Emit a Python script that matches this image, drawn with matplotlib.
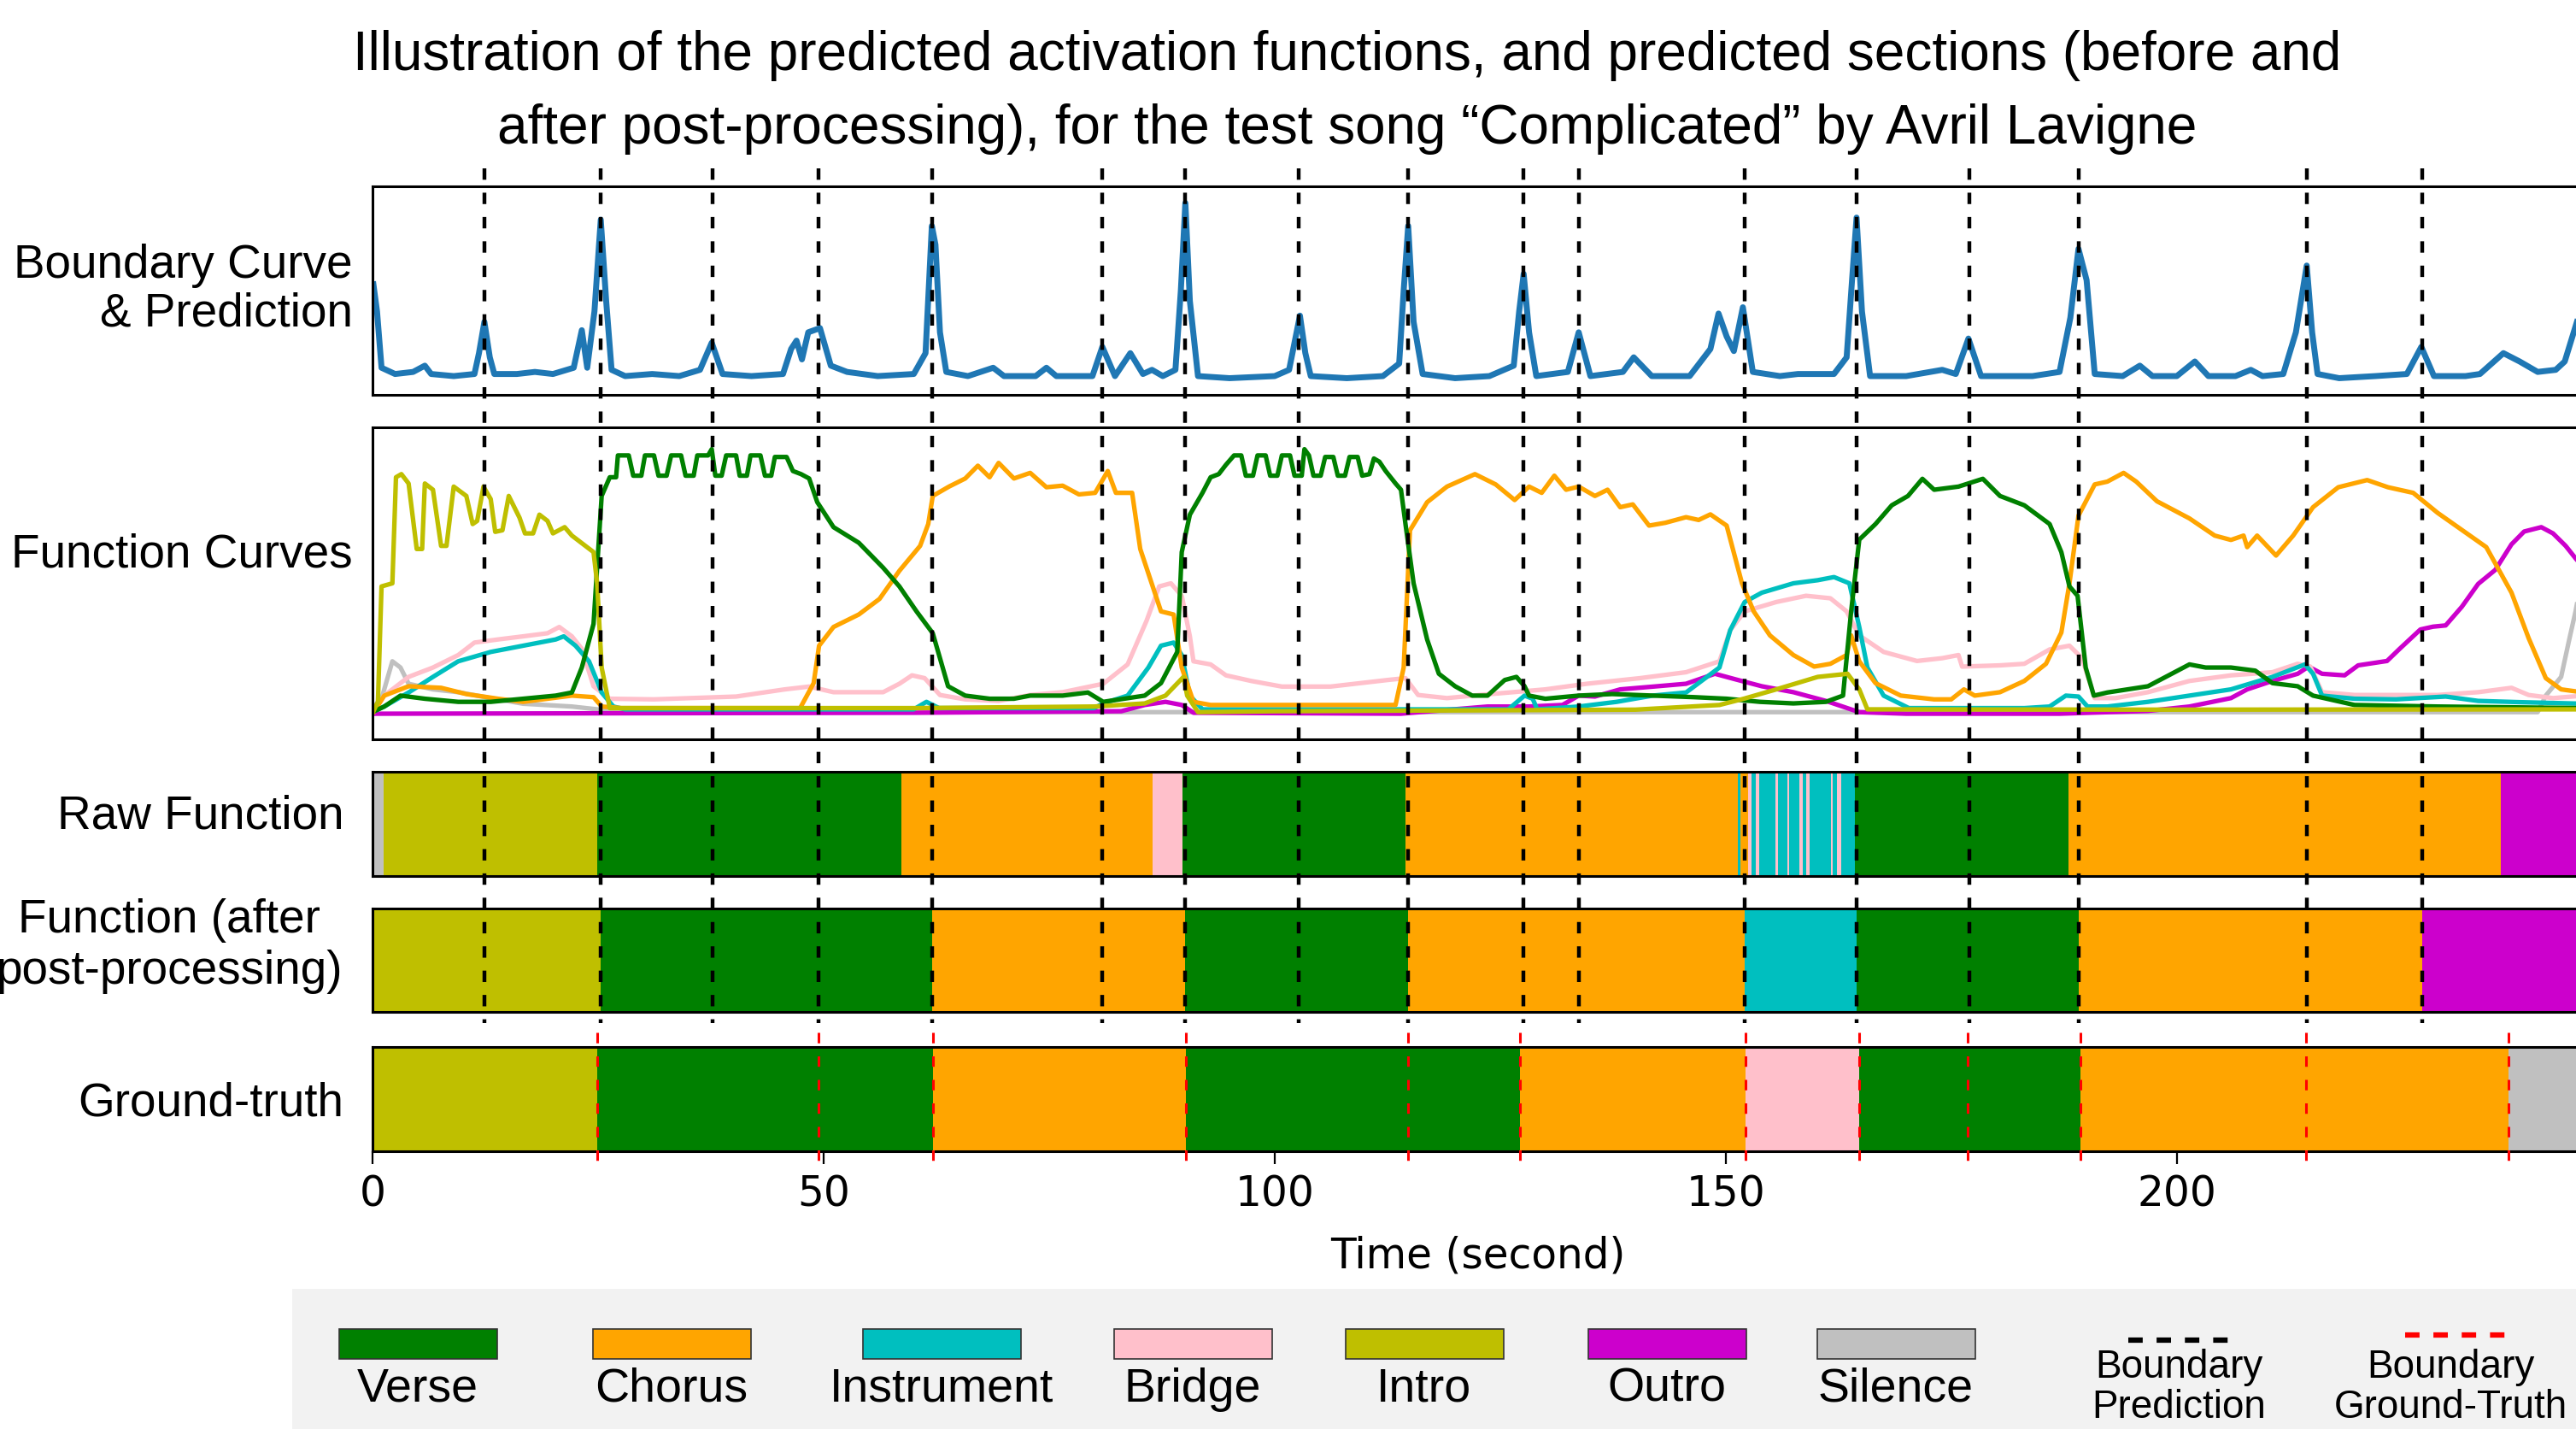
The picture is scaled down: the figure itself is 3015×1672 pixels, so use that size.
import matplotlib
matplotlib.use('Agg')
import matplotlib.pyplot as plt
import matplotlib.transforms as mtransforms
from matplotlib.lines import Line2D
from matplotlib.patches import Rectangle

plt.rcParams['font.family'] = ['Liberation Sans', 'DejaVu Sans']

# ---------------- data ----------------
song_end = 245.1

colors = {'Verse': '#008000', 'Chorus': '#ffa500', 'Instrument': '#00bfbf',
          'Bridge': '#ffc0cb', 'Intro': '#bfbf00', 'Outro': '#cc00cc',
          'Silence': '#c0c0c0'}
legend_names = ['Verse', 'Chorus', 'Instrument', 'Bridge', 'Intro', 'Outro', 'Silence']

pred_bounds = [12.4, 25.3, 37.7, 49.4, 62.0, 80.9, 90.1, 102.7, 114.8, 127.6, 133.7,
               152.1, 164.5, 177.0, 189.1, 214.4, 227.2]
gt_bounds = [24.9, 49.4, 62.1, 90.2, 114.8, 127.2, 152.2, 164.8, 176.8, 189.3, 214.3, 236.8]

raw_edges = [0, 1.2, 24.9, 58.6, 86.5, 89.8, 114.5, 151.3, 151.6, 152.5, 152.9, 153.3,
             153.7, 155.5, 155.8, 156.8, 157.0, 158.2, 158.5, 158.9, 159.3, 161.7, 161.9,
             162.3, 162.8, 164.3, 188.0, 235.9, song_end]
raw_labels = ['Silence', 'Intro', 'Verse', 'Chorus', 'Bridge', 'Verse', 'Chorus',
              'Instrument', 'Chorus', 'Bridge', 'Instrument', 'Bridge', 'Instrument',
              'Bridge', 'Instrument', 'Bridge', 'Instrument', 'Bridge', 'Instrument',
              'Bridge', 'Instrument', 'Bridge', 'Instrument', 'Bridge', 'Instrument',
              'Verse', 'Chorus', 'Outro']

post_edges = [0, 25.3, 62.0, 90.1, 114.8, 152.1, 164.5, 189.1, 227.2, song_end]
post_labels = ['Intro', 'Verse', 'Chorus', 'Verse', 'Chorus', 'Instrument', 'Verse',
               'Chorus', 'Outro']

gt_edges = [0, 24.9, 62.1, 90.2, 127.2, 152.2, 164.8, 189.3, 236.8, song_end]
gt_labels = ['Intro', 'Verse', 'Chorus', 'Verse', 'Chorus', 'Bridge', 'Verse', 'Chorus',
             'Silence']

# boundary activation curve, (time, value) pairs
bnd_points = [
    (0.1, 0.53), (0.5, 0.40), (1.0, 0.13), (2.5, 0.10), (4.5, 0.11), (5.8, 0.14),
    (6.5, 0.10), (9, 0.09), (11.3, 0.10), (11.8, 0.20), (12.4, 0.35), (13.0, 0.18),
    (13.5, 0.10), (16, 0.10), (18, 0.11), (20, 0.10), (22.3, 0.13), (23.2, 0.31),
    (23.8, 0.13), (24.6, 0.40), (25.3, 0.84), (25.9, 0.45), (26.5, 0.12), (28, 0.09),
    (31, 0.10), (34, 0.09), (36.3, 0.12), (37.6, 0.25), (38.8, 0.10), (42, 0.09),
    (45.5, 0.10), (46.4, 0.22), (47.0, 0.26), (47.6, 0.17), (48.3, 0.30), (49.6, 0.32),
    (50.8, 0.14), (52.6, 0.11), (56, 0.09), (60, 0.10), (61.3, 0.20), (61.7, 0.55),
    (62.0, 0.81), (62.4, 0.72), (62.9, 0.30), (63.6, 0.11), (66, 0.09), (68.8, 0.13),
    (70, 0.09), (73.5, 0.09), (74.7, 0.13), (75.8, 0.09), (79.8, 0.09), (80.9, 0.23),
    (82.3, 0.09), (84.0, 0.20), (85.4, 0.10), (86.4, 0.12), (87.6, 0.09), (89.0, 0.12),
    (89.6, 0.50), (90.1, 0.92), (90.6, 0.45), (91.5, 0.09), (95, 0.08), (100, 0.09),
    (101.6, 0.12), (102.2, 0.25), (102.8, 0.38), (103.4, 0.20), (104, 0.09), (108, 0.08),
    (112, 0.09), (113.8, 0.15), (114.3, 0.50), (114.8, 0.81), (115.4, 0.35), (116.4, 0.10),
    (120, 0.08), (123.8, 0.09), (126.5, 0.14), (127.1, 0.40), (127.6, 0.58), (128.2, 0.30),
    (129, 0.09), (132.5, 0.11), (133.7, 0.30), (135, 0.09), (138.6, 0.11), (139.8, 0.18),
    (141.8, 0.09), (146, 0.09), (148.3, 0.22), (149.2, 0.39), (150.1, 0.28), (150.9, 0.21),
    (151.9, 0.42), (153.0, 0.11), (156, 0.09), (158, 0.10), (162, 0.10), (163.4, 0.18),
    (164.0, 0.55), (164.5, 0.85), (165.1, 0.40), (166, 0.09), (170, 0.09), (174.0, 0.12),
    (175.5, 0.10), (176.9, 0.27), (178.3, 0.09), (184, 0.09), (187.0, 0.11), (188.2, 0.37),
    (189.1, 0.70), (190.0, 0.55), (190.9, 0.10), (194, 0.09), (195.9, 0.14), (197.3, 0.09),
    (200, 0.09), (202.0, 0.16), (203.5, 0.09), (206.5, 0.09), (208.2, 0.12), (209.5, 0.09),
    (211.8, 0.10), (213.2, 0.30), (214.4, 0.62), (215.0, 0.30), (215.6, 0.10), (218, 0.08),
    (222, 0.09), (225.5, 0.10), (227.1, 0.23), (228.5, 0.09), (232, 0.09), (233.6, 0.10),
    (236.2, 0.20), (238, 0.16), (240.0, 0.11), (242.0, 0.12), (243.0, 0.16), (244.2, 0.33),
    (245.1, 0.45)]
bnd_t = [p[0] for p in bnd_points]
bnd_v = [p[1] for p in bnd_points]

# function activation curves
verse_t = [0.2, 1.3, 3.1, 5.8, 9.5, 13.1, 16.7, 20.3, 22.1, 23.2, 24.5, 25.4, 26.3, 27.0,
           27.2, 28.4, 28.9, 29.8, 30.2, 31.2, 31.7, 32.6, 33.1, 34.2, 34.7, 35.6, 36.0,
           37.2, 37.6, 38.0, 38.7, 39.2, 40.3, 40.7, 41.5, 41.9, 43.0, 43.5, 44.2, 44.6,
           45.9, 46.6, 47.5, 48.4, 49.3, 51.1, 53.9, 56.6, 58.4, 60.3, 62.1, 63.0, 63.8,
           65.7, 68.4, 71.1, 72.9, 76.5, 79.3, 81.0, 85.6, 87.4, 89.2, 89.7, 90.6, 92.0,
           92.9, 93.8, 94.6, 95.5, 96.3, 96.8, 97.6, 98.1, 99.0, 99.5, 100.3, 100.8, 101.7,
           102.2, 103.0, 103.3, 103.8, 104.3, 105.1, 105.6, 106.5, 107.0, 107.8, 108.3,
           109.2, 109.7, 110.5, 111.0, 111.6, 112.3, 113.4, 114.0, 114.5, 115.4, 116.9,
           118.2, 120.0, 121.9, 123.6, 125.5, 126.8, 127.7, 128.2, 130.0, 133.7, 137.4,
           141.9, 146.5, 150.1, 153.8, 157.5, 161.1, 163.0, 163.9, 164.8, 166.6, 168.4,
           170.2, 171.8, 173.1, 175.8, 178.5, 180.4, 183.1, 185.9, 187.2, 188.1, 189.0,
           189.9, 190.8, 192.3, 196.8, 201.4, 203.2, 206.0, 208.7, 210.6, 213.4, 215.1,
           219.7, 228.9, 245.1]
verse_v = [0.09, 0.105, 0.14, 0.13, 0.12, 0.12, 0.13, 0.14, 0.15, 0.23, 0.37, 0.78, 0.84,
           0.84, 0.91, 0.91, 0.845, 0.845, 0.91, 0.91, 0.845, 0.845, 0.91, 0.91, 0.845,
           0.845, 0.91, 0.91, 0.93, 0.845, 0.845, 0.91, 0.91, 0.845, 0.845, 0.91, 0.91,
           0.845, 0.845, 0.905, 0.905, 0.86, 0.85, 0.836, 0.76, 0.68, 0.63, 0.55, 0.49,
           0.41, 0.34, 0.25, 0.17, 0.14, 0.13, 0.13, 0.14, 0.14, 0.15, 0.12, 0.14, 0.18,
           0.28, 0.60, 0.72, 0.79, 0.84, 0.85, 0.88, 0.91, 0.91, 0.845, 0.845, 0.91, 0.91,
           0.845, 0.845, 0.91, 0.91, 0.845, 0.845, 0.93, 0.91, 0.845, 0.845, 0.905, 0.905,
           0.845, 0.845, 0.905, 0.905, 0.845, 0.85, 0.90, 0.89, 0.86, 0.82, 0.80, 0.69,
           0.50, 0.32, 0.21, 0.17, 0.14, 0.14, 0.19, 0.20, 0.17, 0.14, 0.13, 0.14, 0.145,
           0.14, 0.135, 0.13, 0.12, 0.115, 0.12, 0.14, 0.41, 0.64, 0.69, 0.75, 0.78, 0.835,
           0.80, 0.81, 0.835, 0.78, 0.75, 0.69, 0.60, 0.49, 0.46, 0.23, 0.14, 0.15, 0.17,
           0.24, 0.23, 0.23, 0.22, 0.18, 0.17, 0.14, 0.11, 0.105, 0.10]

chorus_t = [0.2, 1.3, 4.0, 7.6, 10.4, 13.9, 16.7, 22.1, 24.5, 25.4, 27.6, 40, 47.4, 48.9,
            49.5, 51.1, 53.9, 56.2, 58.4, 60.7, 61.6, 62.1, 63.9, 65.7, 67.1, 68.4, 69.4,
            71.1, 72.9, 74.7, 76.5, 78.3, 80.1, 81.5, 82.4, 84.2, 85.1, 87.4, 88.8, 89.7,
            91.0, 92.9, 100, 113.4, 114.3, 115.0, 116.9, 119.1, 122.2, 124.5, 126.6, 128.2,
            129.6, 131.0, 132.3, 133.7, 135.5, 136.9, 138.3, 139.7, 141.5, 143.3, 145.6,
            147.0, 148.3, 150.1, 151.8, 153.1, 154.9, 157.5, 159.8, 161.6, 163.4, 163.9,
            164.8, 166.6, 169.4, 173.1, 175.0, 176.4, 177.6, 180.4, 183.1, 185.5, 187.2,
            188.1, 189.1, 190.9, 192.3, 194.1, 195.5, 197.8, 201.4, 204.2, 206.0, 207.4,
            207.8, 208.9, 211.0, 212.9, 215.1, 217.9, 221.1, 223.4, 226.2, 228.9, 231.6,
            234.3, 237.1, 239.0, 240.9, 242.6, 245.1]
chorus_v = [0.09, 0.14, 0.17, 0.165, 0.145, 0.13, 0.12, 0.14, 0.135, 0.105, 0.10, 0.10,
            0.10, 0.18, 0.30, 0.36, 0.40, 0.45, 0.54, 0.62, 0.69, 0.78, 0.81, 0.836, 0.877,
            0.84, 0.886, 0.836, 0.854, 0.808, 0.813, 0.785, 0.79, 0.86, 0.79, 0.79, 0.61,
            0.41, 0.40, 0.23, 0.12, 0.11, 0.11, 0.11, 0.23, 0.67, 0.76, 0.81, 0.85, 0.817,
            0.767, 0.81, 0.79, 0.845, 0.80, 0.81, 0.78, 0.80, 0.744, 0.753, 0.685, 0.694,
            0.712, 0.703, 0.721, 0.685, 0.50, 0.41, 0.333, 0.27, 0.233, 0.242, 0.27, 0.333,
            0.25, 0.18, 0.14, 0.128, 0.128, 0.16, 0.14, 0.151, 0.187, 0.242, 0.342, 0.50,
            0.717, 0.817, 0.826, 0.854, 0.826, 0.763, 0.708, 0.653, 0.639, 0.653, 0.616,
            0.653, 0.589, 0.653, 0.744, 0.808, 0.831, 0.808, 0.790, 0.726, 0.671, 0.616,
            0.470, 0.324, 0.196, 0.160, 0.15]

instr_t = [0.2, 1.3, 4.0, 6.7, 9.5, 13.1, 16.7, 20.3, 21.2, 22.5, 24.0, 25.4, 26.7, 28,
           60, 61.4, 62.8, 80, 81.0, 83.7, 86.0, 87.4, 88.8, 89.7, 90.6, 92.0, 125.9,
           127.7, 128.6, 129.1, 133.7, 137.9, 141.9, 145.6, 149.3, 150.5, 152.1, 154.0,
           157.5, 160.2, 162.0, 163.7, 164.8, 165.7, 167.5, 170.3, 183.1, 185.9, 187.7,
           189.1, 190.1, 192.3, 196.8, 201.4, 206.0, 210.6, 214.2, 215.1, 216.1, 219.7,
           224.3, 229.8, 233.4, 238.0, 245.1]
instr_v = [0.09, 0.105, 0.15, 0.20, 0.25, 0.28, 0.30, 0.32, 0.33, 0.30, 0.25, 0.15, 0.105,
           0.096, 0.096, 0.12, 0.10, 0.10, 0.115, 0.14, 0.23, 0.30, 0.31, 0.27, 0.14, 0.096,
           0.096, 0.14, 0.13, 0.096, 0.105, 0.12, 0.14, 0.15, 0.23, 0.35, 0.44, 0.47, 0.50,
           0.51, 0.52, 0.50, 0.36, 0.23, 0.14, 0.10, 0.10, 0.105, 0.14, 0.137, 0.105, 0.105,
           0.12, 0.14, 0.16, 0.20, 0.24, 0.21, 0.14, 0.13, 0.128, 0.137, 0.123, 0.119, 0.114]

bridge_t = [0.2, 1.3, 4.0, 6.7, 9.5, 11.3, 13.9, 16.7, 19.4, 20.7, 22.1, 23.2, 24.5, 26.3,
            31.2, 40.3, 45.7, 48.4, 51.1, 53.9, 56.6, 58.4, 59.8, 61.2, 62.9, 65.7, 69.4,
            72.9, 76.5, 81.0, 83.7, 85.8, 87.2, 88.5, 89.7, 90.6, 91.0, 92.9, 94.6, 97.4,
            100.8, 106.2, 112.5, 114.5, 115.9, 119.1, 122.7, 126.4, 130.0, 134.6, 140.5,
            145.6, 149.3, 150.5, 152.1, 155.6, 158.9, 161.6, 163.4, 164.8, 167.5, 171.2,
            174.0, 175.8, 176.2, 180.4, 183.1, 185.9, 188.1, 189.5, 190.9, 193.2, 196.8,
            201.4, 206.0, 210.6, 213.4, 214.8, 216.1, 219.7, 224.3, 228.9, 233.4, 237.1,
            239.0, 241.7, 245.1]
bridge_v = [0.09, 0.14, 0.20, 0.23, 0.27, 0.31, 0.32, 0.33, 0.34, 0.36, 0.33, 0.29, 0.17,
            0.13, 0.128, 0.137, 0.16, 0.169, 0.151, 0.151, 0.151, 0.178, 0.205, 0.196,
            0.142, 0.128, 0.123, 0.142, 0.151, 0.178, 0.24, 0.38, 0.49, 0.50, 0.46, 0.33,
            0.25, 0.24, 0.205, 0.187, 0.169, 0.169, 0.19, 0.196, 0.142, 0.132, 0.142, 0.151,
            0.16, 0.178, 0.196, 0.215, 0.25, 0.35, 0.41, 0.44, 0.46, 0.452, 0.41, 0.333,
            0.28, 0.251, 0.26, 0.27, 0.233, 0.237, 0.242, 0.288, 0.30, 0.26, 0.132, 0.132,
            0.151, 0.187, 0.205, 0.215, 0.242, 0.233, 0.151, 0.142, 0.142, 0.142, 0.151,
            0.165, 0.142, 0.132, 0.14]

intro_t = [0.1, 0.6, 1.0, 2.2, 2.6, 3.2, 4.0, 4.9, 5.5, 5.8, 6.7, 7.6, 8.2, 9.0, 10.4,
           11.1, 11.6, 12.3, 13.1, 13.6, 14.4, 15.1, 16.3, 16.9, 17.8, 18.5, 19.4, 20.0,
           21.3, 22.1, 24.5, 24.9, 25.4, 26.3, 30, 60, 80, 85.6, 87.9, 89.9, 90.3, 91.5,
           100, 140, 149.3, 152.0, 155.6, 160.2, 163.5, 164.8, 165.7, 200, 245.1]
intro_v = [0.09, 0.12, 0.49, 0.50, 0.84, 0.85, 0.82, 0.61, 0.61, 0.82, 0.80, 0.62, 0.62,
           0.81, 0.78, 0.69, 0.70, 0.81, 0.77, 0.665, 0.67, 0.78, 0.71, 0.66, 0.66, 0.72,
           0.70, 0.66, 0.68, 0.653, 0.60, 0.50, 0.23, 0.10, 0.10, 0.10, 0.105, 0.115, 0.14,
           0.20, 0.14, 0.087, 0.09, 0.095, 0.11, 0.13, 0.16, 0.20, 0.21, 0.16, 0.096, 0.095,
           0.096]

outro_t = [0, 60, 83, 85.6, 87.9, 89.7, 91.0, 114, 123.6, 128.2, 131.9, 133.7, 135.5, 138.3,
           142.0, 145.6, 146.5, 148.8, 151.1, 154.0, 157.5, 161.1, 164.8, 170, 187, 196.8,
           201.4, 206.0, 207.8, 210.6, 213.4, 214.6, 216.1, 218.6, 220.1, 223.3, 224.7,
           227.0, 228.4, 229.8, 231.6, 233.4, 235.3, 237.1, 238.5, 240.4, 241.7, 243.1,
           244.2, 245.1]
outro_v = [0.082, 0.085, 0.09, 0.11, 0.12, 0.11, 0.085, 0.082, 0.105, 0.105, 0.11, 0.14,
           0.137, 0.16, 0.169, 0.178, 0.187, 0.21, 0.192, 0.17, 0.151, 0.123, 0.087, 0.082,
           0.082, 0.091, 0.105, 0.132, 0.16, 0.187, 0.21, 0.233, 0.21, 0.205, 0.237, 0.251,
           0.29, 0.352, 0.361, 0.365, 0.425, 0.498, 0.543, 0.625, 0.666, 0.68, 0.66, 0.62,
           0.58, 0.55]

silence_t = [0.1, 1.1, 2.2, 3.1, 4.0, 6.7, 9.5, 13.1, 16.7, 22.1, 24.9, 27.6, 240, 240.9,
             242.6, 243.5, 244.2, 245.1]
silence_v = [0.10, 0.14, 0.25, 0.23, 0.178, 0.16, 0.151, 0.132, 0.114, 0.105, 0.096, 0.087,
             0.087, 0.14, 0.20, 0.32, 0.41, 0.55]

title = ('Illustration of the predicted activation functions, and predicted sections (before and\n'
         'after post-processing), for the test song \u201cComplicated\u201d by Avril Lavigne')

# ---------------- layout (pixel boxes of the reference) ----------------
W, H = 3015, 1672
fig = plt.figure(figsize=(W / 100, H / 100), dpi=100)


def box(x0, y0, x1, y1):
    return [x0 / W, 1 - y1 / H, (x1 - x0) / W, (y1 - y0) / H]


AX_L, AX_R = 436, 3024
ax_bnd = fig.add_axes(box(AX_L, 218, AX_R, 462))
ax_fun = fig.add_axes(box(AX_L, 500, AX_R, 865))
ax_raw = fig.add_axes(box(AX_L, 903, AX_R, 1025))
ax_post = fig.add_axes(box(AX_L, 1063, AX_R, 1184))
ax_gt = fig.add_axes(box(AX_L, 1225, AX_R, 1347))

for ax in [ax_bnd, ax_fun, ax_raw, ax_post, ax_gt]:
    ax.set_xlim(0, song_end)
    ax.set_ylim(0, 1)
    ax.set_yticks([])
    ax.set_xticks([])
    for sp in ax.spines.values():
        sp.set_linewidth(2.2)

ax_bnd.plot(bnd_t, bnd_v, color='#1f77b4', lw=5.0, solid_joinstyle='round')

curves = [('Silence', silence_t, silence_v), ('Outro', outro_t, outro_v),
          ('Bridge', bridge_t, bridge_v), ('Instrument', instr_t, instr_v),
          ('Chorus', chorus_t, chorus_v), ('Verse', verse_t, verse_v),
          ('Intro', intro_t, intro_v)]
for name, tt, vv in curves:
    ax_fun.plot(tt, vv, color=colors[name], lw=3.8, solid_joinstyle='round')


def draw_sections(ax, edges, labels):
    spans = [(edges[i], edges[i + 1] - edges[i]) for i in range(len(labels))]
    ax.broken_barh(spans, (0, 1), facecolors=[colors[n] for n in labels], linewidth=0)


draw_sections(ax_raw, raw_edges, raw_labels)
draw_sections(ax_post, post_edges, post_labels)
draw_sections(ax_gt, gt_edges, gt_labels)

ax_gt.set_xticks([0, 50, 100, 150, 200])
ax_gt.tick_params(axis='x', length=11, width=1.6, pad=8, labelsize=35)
for lab in ax_gt.get_xticklabels():
    lab.set_family('DejaVu Sans')
ax_gt.set_xlabel('Time (second)', fontsize=35, family='DejaVu Sans', labelpad=17)

# boundary lines running across panels
trans = mtransforms.blended_transform_factory(ax_gt.transData, fig.transFigure)
for t in pred_bounds:
    fig.add_artist(Line2D([t, t], [1 - 197 / H, 1 - 1197 / H], transform=trans,
                          color='black', lw=3.2, dashes=(3.0, 3.4)))
for t in gt_bounds:
    fig.add_artist(Line2D([t, t], [1 - 1208 / H, 1 - 1367 / H], transform=trans,
                          color='red', lw=2.2, dashes=(4.0, 5.0)))

# panel labels
fig.text(413 / W, 1 - 339 / H, 'Boundary Curve\n& Prediction', ha='right', va='center',
         multialignment='right', fontsize=39.5, linespacing=1.12)
fig.text(413 / W, 1 - 650 / H, 'Function Curves', ha='right', va='center', fontsize=39.5)
fig.text(403 / W, 1 - 955 / H, 'Raw Function', ha='right', va='center', fontsize=39.5)
fig.text(198 / W, 1 - 1107 / H, 'Function (after\npost-processing)', ha='center',
         va='center', multialignment='center', fontsize=39.5, linespacing=1.18)
fig.text(402 / W, 1 - 1292 / H, 'Ground-truth', ha='right', va='center', fontsize=39.5)

fig.text(1577 / W, 1 - 108 / H, title, ha='center', va='center', fontsize=46,
         linespacing=1.57)

# legend strip
lax = fig.add_axes(box(342, 1508, W, H))
lax.set_xlim(342, W)
lax.set_ylim(H, 1508)
lax.set_facecolor('#f2f2f2')
lax.set_xticks([])
lax.set_yticks([])
for sp in lax.spines.values():
    sp.set_visible(False)

patch_x = [397, 694, 1010, 1304, 1575, 1859, 2127]
for name, x0 in zip(legend_names, patch_x):
    lax.add_patch(Rectangle((x0, 1555), 185, 35, facecolor=colors[name],
                            edgecolor='#333333', lw=1.2))
    lax.text(x0 + 92, 1640, name, ha='center', va='baseline', fontsize=40)

lax.add_line(Line2D([2491, 2609], [1568, 1568], color='black', lw=4.5, dashes=(2.7, 2.6)))
lax.add_line(Line2D([2815, 2933], [1562, 1562], color='red', lw=4.5, dashes=(2.7, 2.6)))
lax.text(2550, 1669, 'Boundary\nPrediction', ha='center', va='bottom', fontsize=33,
         linespacing=1.1)
lax.text(2868, 1669, 'Boundary\nGround-Truth', ha='center', va='bottom', fontsize=33,
         linespacing=1.1)

fig.savefig('out.png', dpi=100)
